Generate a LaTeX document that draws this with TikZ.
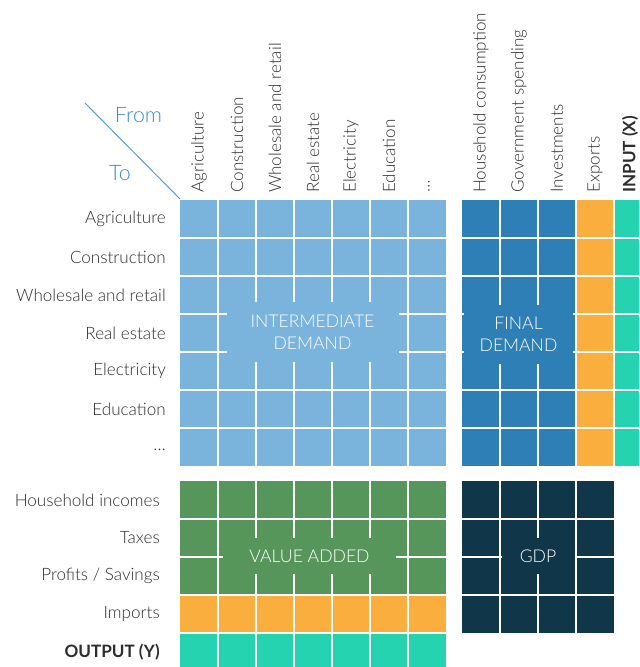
\documentclass[tikz,border=0pt]{standalone}
\usepackage{fontspec}
\setmainfont{Lato}[UprightFont=* Light, BoldFont=* Bold]

\definecolor{interblue}{RGB}{122,180,220}
\definecolor{finalblue}{RGB}{46,127,182}
\definecolor{exportorange}{RGB}{250,174,61}
\definecolor{totalteal}{RGB}{38,211,176}
\definecolor{addedgreen}{RGB}{86,150,90}
\definecolor{gdpnavy}{RGB}{16,54,74}
\definecolor{fromblue}{RGB}{58,140,198}
\definecolor{labelgray}{RGB}{45,45,45}

\tikzset{
  cellgrid/.style={draw=white, line width=1.1pt},
  rowlab/.style={anchor=east, inner sep=0pt, text=labelgray, font=\fontsize{12.8}{15}\selectfont},
  collab/.style={anchor=west, rotate=90, inner sep=0pt, text=labelgray, font=\fontsize{12.8}{15}\selectfont},
  blocklab/.style={inner sep=0pt, align=center, text=white, font=\fontsize{13.2}{16.5}\selectfont},
}

\begin{document}
\begin{tikzpicture}[x=0.75pt,y=0.75pt,yscale=-1]
\clip (0,0) rectangle (639,667);

%Shape: Intermediate block
\fill [interblue] (180,200) rectangle (446,466) ;
%Shape: Final demand block
\fill [finalblue] (462,200) rectangle (576,466) ;
\fill [exportorange] (576,200) rectangle (614,466) ;
\fill [totalteal] (614,200) rectangle (652,466) ;
%Shape: Value added block
\fill [addedgreen] (180,481) rectangle (446,595) ;
\fill [exportorange] (180,595) rectangle (446,633) ;
\fill [totalteal] (180,633) rectangle (446,671) ;
%Shape: GDP block
\fill [gdpnavy] (462,481) rectangle (614,633) ;

%Straight Lines: cell grid
\foreach \i in {1,...,6} {
  \draw [cellgrid] ({180+38*\i},200) -- ++(0,266) ;
  \draw [cellgrid] (180,{200+38*\i}) -- ++(266,0) ;
  \draw [cellgrid] ({180+38*\i},481) -- ++(0,190) ;
  \draw [cellgrid] (462,{200+38*\i}) -- ++(190,0) ;
}
\foreach \i in {1,...,4} {
  \draw [cellgrid] ({462+38*\i},200) -- ++(0,266) ;
  \draw [cellgrid] (180,{481+38*\i}) -- ++(266,0) ;
}
\foreach \i in {1,...,3} {
  \draw [cellgrid] ({462+38*\i},481) -- ++(0,152) ;
  \draw [cellgrid] (462,{481+38*\i}) -- ++(152,0) ;
}

% Text Node
\node [blocklab, fill=interblue, minimum width=129pt, minimum height=45pt] (interLab) at (312.5,332) {INTERMEDIATE\\DEMAND};
% Text Node
\node [blocklab, fill=finalblue, minimum width=81.75pt, minimum height=44.25pt] (finalLab) at (518.5,334.5) {FINAL\\DEMAND};
% Text Node
\node [blocklab, fill=addedgreen, minimum width=129.75pt, minimum height=27pt] (addedLab) at (309.5,556) {VALUE ADDED};
% Text Node
\node [blocklab, fill=gdpnavy, minimum width=54.75pt, minimum height=27pt] (gdpLab) at (538,556) {GDP};

%Straight Lines: corner
\coordinate (cornerA) at (85,103) ;
\coordinate (cornerB) at (180,199) ;
\draw [fromblue!85, line width=0.75pt] (cornerA) -- (cornerB) ;
% Text Node
\node [text=fromblue, font=\fontsize{16}{19}\selectfont] (fromLab) at (138.5,115.5) {From};
% Text Node
\node [text=fromblue, font=\fontsize{16}{19}\selectfont] (toLab) at (120,173.5) {To};

% Text Node: rows
\node [rowlab] (rAgri) at (166,219) {Agriculture};
\node [rowlab] (rCons) at (166,257) {Construction};
\node [rowlab] (rWhole) at (166,295) {Wholesale and retail};
\node [rowlab] (rReal) at (166,333) {Real estate};
\node [rowlab] (rElec) at (166,371) {Electricity};
\node [rowlab] (rEdu) at (166,409) {Education};
\node [rowlab] (rMore) at (166,450) {\dots};
\node [rowlab] (rHouse) at (160,500) {Household incomes};
\node [rowlab] (rTax) at (160,538) {Taxes};
\node [rowlab] (rProf) at (160,576) {Profits / Savings};
\node [rowlab] (rImp) at (160,614) {Imports};
\node [rowlab] (rOut) at (160,652) {\textbf{OUTPUT (Y)}};

% Text Node: columns
\node [collab] (cAgri) at (199,193) {Agriculture};
\node [collab] (cCons) at (237,193) {Construction};
\node [collab] (cWhole) at (275,193) {Wholesale and retail};
\node [collab] (cReal) at (313,193) {Real estate};
\node [collab] (cElec) at (351,193) {Electricity};
\node [collab] (cEdu) at (389,193) {Education};
\node [collab] (cMore) at (429,193) {\dots};
\node [collab] (cHouse) at (481,193) {Household consumption};
\node [collab] (cGov) at (519,193) {Government spending};
\node [collab] (cInv) at (557,193) {Investments};
\node [collab] (cExp) at (595,193) {Exports};
\node [collab] (cIn) at (630,193) {\textbf{INPUT (X)}};

\end{tikzpicture}
\end{document}
